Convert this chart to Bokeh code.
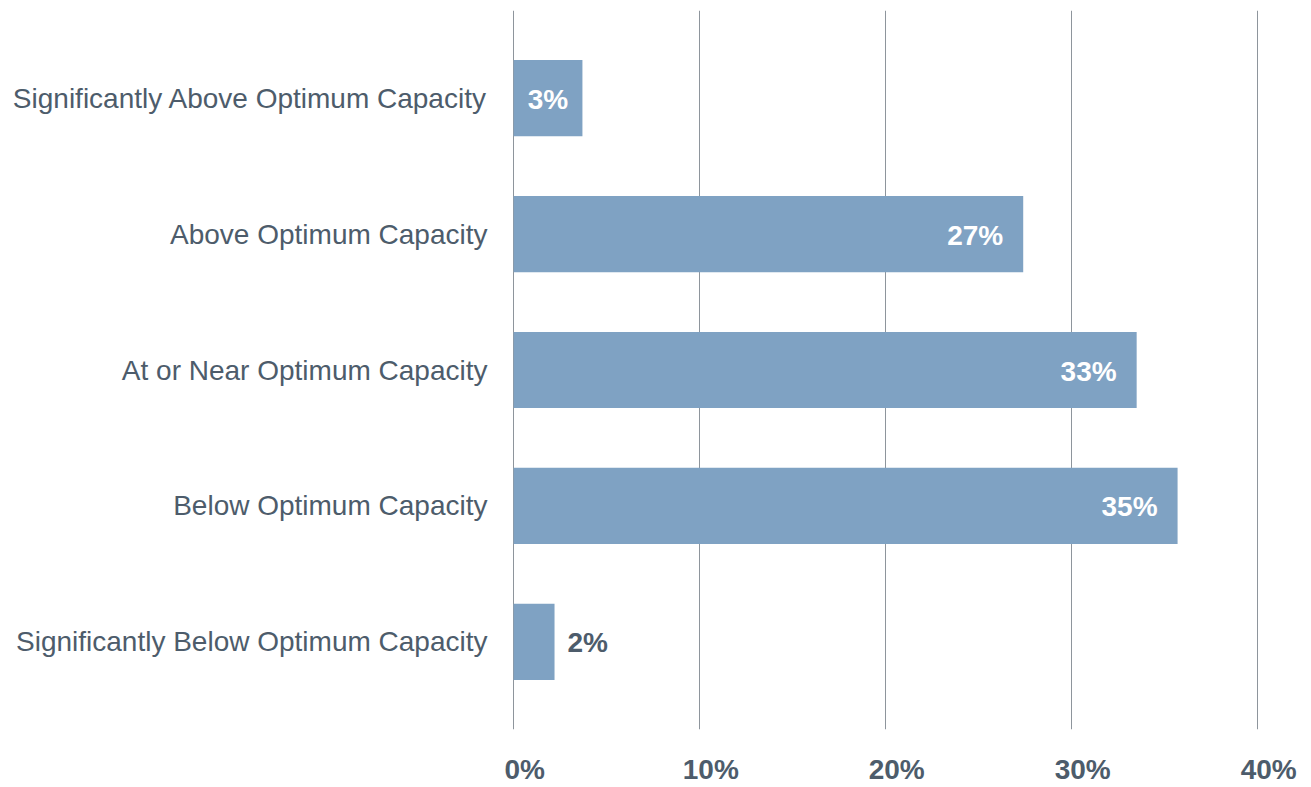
from bokeh.plotting import figure
from bokeh.models import ColumnDataSource, FactorRange, Range1d, FixedTicker, CustomJSTickFormatter
from bokeh.core.properties import value
from bokeh.embed import file_html
from bokeh.resources import INLINE

# ---- data ----
categories = [
    "Significantly Above Optimum Capacity",
    "Above Optimum Capacity",
    "At or Near Optimum Capacity",
    "Below Optimum Capacity",
    "Significantly Below Optimum Capacity",
]
shares = [3.7, 27.4, 33.5, 35.7, 2.2]
share_labels = ["3%", "27%", "33%", "35%", "2%"]
label_placement = ["center", "inside", "inside", "inside", "outside"]
x_ticks = [0, 10, 20, 30, 40]
x_tick_labels = ["0%", "10%", "20%", "30%", "40%"]

# ---- style ----
FONT = "Liberation Sans"
BAR = "#7fa2c3"
DARK = "#4d5c6b"
GRID = "#8e959c"

p = figure(
    width=1311, height=787,
    y_range=FactorRange(factors=list(reversed(categories)),
                        range_padding=0.145, range_padding_units="absolute"),
    x_range=Range1d(-0.06, 40.75),
    output_backend="svg", toolbar_location=None,
    min_border_left=512, min_border_right=40,
    min_border_top=10, min_border_bottom=58,
)
p.outline_line_color = None
p.background_fill_color = "white"
p.border_fill_color = "white"

# grid (drawn beneath bars)
p.ygrid.grid_line_color = None
p.xgrid.ticker = FixedTicker(ticks=x_ticks)
p.xgrid.grid_line_color = GRID
p.xgrid.grid_line_width = 1

src = ColumnDataSource(dict(cat=categories, val=shares))
p.hbar(y="cat", left=0, right="val", height=0.56, source=src,
       fill_color=BAR, line_color=None)

# value labels
inside = dict(cat=[], val=[], lab=[])
center = dict(cat=[], val=[], lab=[])
outside = dict(cat=[], val=[], lab=[])
for c, v, l, pl in zip(categories, shares, share_labels, label_placement):
    d = {"inside": inside, "center": center, "outside": outside}[pl]
    d["cat"].append(c)
    d["val"].append(v if pl != "center" else v / 2)
    d["lab"].append(l)

common = dict(text_font=value(FONT), text_font_style="bold",
              text_font_size="28px", text_baseline="middle", y_offset=1)
p.text(x="val", y="cat", text="lab", source=ColumnDataSource(inside),
       text_color="white", text_align="right", x_offset=-20, **common)
p.text(x="val", y="cat", text="lab", source=ColumnDataSource(center),
       text_color="white", text_align="center", **common)
p.text(x="val", y="cat", text="lab", source=ColumnDataSource(outside),
       text_color=DARK, text_align="left", x_offset=13, **common)

# x axis: labels drawn slightly right of grid lines, as in the original
shift = 0.6
p.xaxis.ticker = FixedTicker(ticks=[t + shift for t in x_ticks])
p.xaxis.formatter = CustomJSTickFormatter(
    args=dict(tick_vals=x_ticks, tick_labs=x_tick_labels, shift=shift),
    code="""
    const v = Math.round((tick - shift) * 10) / 10;
    const i = tick_vals.indexOf(v);
    return i >= 0 ? tick_labs[i] : '';
    """)
p.xaxis.axis_line_color = None
p.xaxis.major_tick_line_color = None
p.xaxis.minor_tick_line_color = None
p.xaxis.major_tick_out = 0
p.xaxis.major_tick_in = 0
p.xaxis.major_label_standoff = 24
p.xaxis.major_label_text_font = FONT
p.xaxis.major_label_text_font_style = "bold"
p.xaxis.major_label_text_font_size = "28px"
p.xaxis.major_label_text_color = DARK

# y axis
p.yaxis.axis_line_color = None
p.yaxis.major_tick_line_color = None
p.yaxis.minor_tick_line_color = None
p.yaxis.major_tick_out = 0
p.yaxis.major_tick_in = 0
p.yaxis.major_label_standoff = 25
p.yaxis.major_label_text_font = FONT
p.yaxis.major_label_text_font_size = "28px"
p.yaxis.major_label_text_color = DARK

open("out.html", "w").write(file_html(p, INLINE))
